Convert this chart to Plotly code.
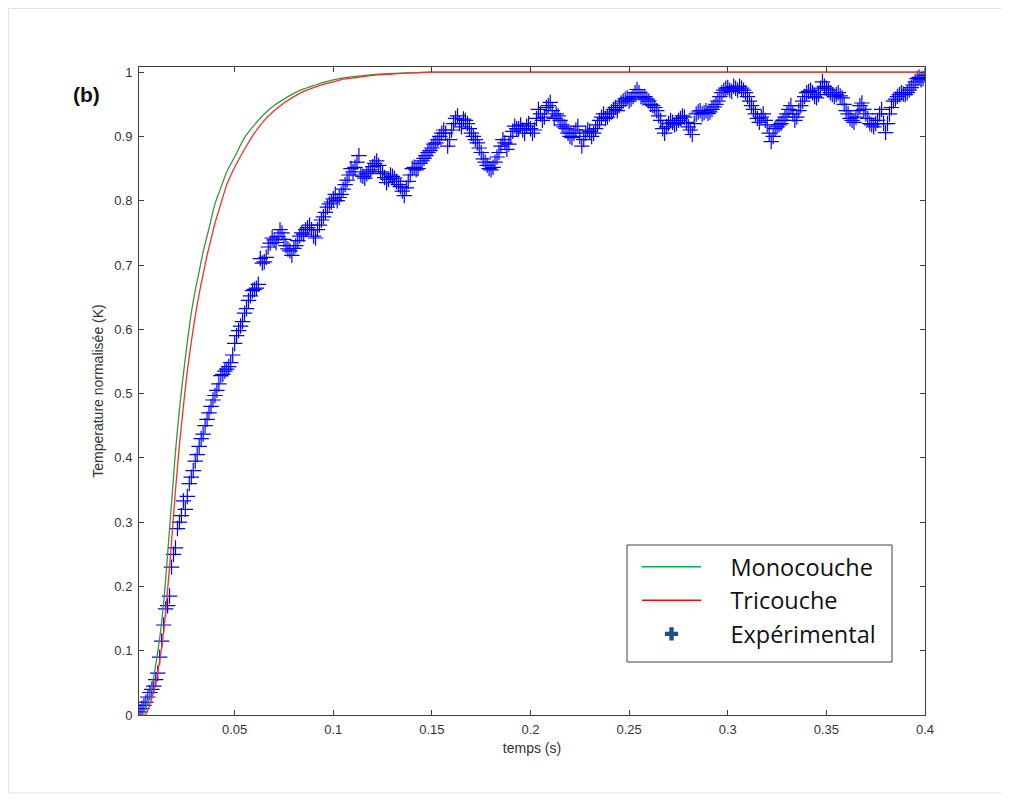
import plotly.graph_objects as go

# ---------------- data ----------------
t_model_g = [0.0015, 0.003, 0.004, 0.005, 0.006, 0.007, 0.008, 0.009, 0.010, 0.011,
             0.012, 0.013, 0.014, 0.015, 0.016, 0.017, 0.018, 0.019, 0.020, 0.022,
             0.024, 0.026, 0.028, 0.030, 0.032, 0.034, 0.036, 0.038, 0.040, 0.043,
             0.046, 0.050, 0.055, 0.060, 0.065, 0.070, 0.075, 0.080, 0.085, 0.090,
             0.095, 0.100, 0.105, 0.110, 0.120, 0.130, 0.140, 0.150, 0.400]
v_mono = [0.0, 0.0, 0.005, 0.012, 0.022, 0.033, 0.045, 0.060, 0.078, 0.098,
          0.120, 0.145, 0.175, 0.210, 0.250, 0.290, 0.330, 0.370, 0.410, 0.475,
          0.530, 0.580, 0.625, 0.660, 0.690, 0.720, 0.745, 0.770, 0.795, 0.820,
          0.845, 0.868, 0.898, 0.918, 0.935, 0.948, 0.958, 0.967, 0.974, 0.979,
          0.984, 0.988, 0.991, 0.993, 0.996, 0.998, 0.999, 1.0, 1.0]

t_model_r = [0.0015, 0.0045, 0.005, 0.006, 0.007, 0.008, 0.009, 0.010, 0.011, 0.012,
             0.013, 0.014, 0.015, 0.016, 0.017, 0.018, 0.019, 0.020, 0.021, 0.022,
             0.024, 0.026, 0.028, 0.030, 0.032, 0.034, 0.036, 0.038, 0.040, 0.043,
             0.046, 0.050, 0.055, 0.060, 0.065, 0.070, 0.075, 0.080, 0.085, 0.090,
             0.095, 0.100, 0.105, 0.110, 0.120, 0.130, 0.140, 0.150, 0.400]
v_tri = [0.0, 0.0, 0.002, 0.008, 0.016, 0.026, 0.038, 0.050, 0.066, 0.085,
         0.105, 0.130, 0.160, 0.195, 0.230, 0.270, 0.310, 0.350, 0.385, 0.420,
         0.480, 0.535, 0.580, 0.620, 0.655, 0.685, 0.715, 0.740, 0.765, 0.795,
         0.825, 0.852, 0.880, 0.905, 0.925, 0.940, 0.952, 0.962, 0.970, 0.976,
         0.981, 0.985, 0.989, 0.991, 0.995, 0.997, 0.999, 1.0, 1.0]

# experimental samples at even milliseconds (0.002 ... 0.400)
v_exp_even = [
    0.005, 0.015, 0.028, 0.040, 0.055, 0.090, 0.140, 0.170, 0.230, 0.260,
    0.300, 0.333, 0.340, 0.370, 0.395, 0.418, 0.437, 0.460, 0.480, 0.497,
    0.515, 0.530, 0.538, 0.548, 0.578, 0.598, 0.612, 0.632, 0.652, 0.662,
    0.670, 0.703, 0.712, 0.734, 0.739, 0.744, 0.750, 0.730, 0.722, 0.726,
    0.738, 0.750, 0.755, 0.762, 0.745, 0.755, 0.770, 0.782, 0.795, 0.803,
    0.800, 0.810, 0.825, 0.840, 0.845, 0.860, 0.840, 0.835, 0.845, 0.853,
    0.862, 0.845, 0.836, 0.833, 0.838, 0.830, 0.822, 0.808, 0.830, 0.850,
    0.848, 0.858, 0.866, 0.875, 0.882, 0.890, 0.900, 0.910, 0.885, 0.910,
    0.928, 0.920, 0.927, 0.920, 0.905, 0.895, 0.882, 0.865, 0.855, 0.848,
    0.860, 0.875, 0.895, 0.880, 0.900, 0.916, 0.912, 0.910, 0.916, 0.912,
    0.910, 0.942, 0.925, 0.945, 0.953, 0.928, 0.932, 0.918, 0.912, 0.900,
    0.905, 0.916, 0.885, 0.905, 0.908, 0.905, 0.918, 0.930, 0.928, 0.935,
    0.942, 0.940, 0.952, 0.958, 0.955, 0.962, 0.973, 0.962, 0.962, 0.955,
    0.948, 0.940, 0.925, 0.905, 0.920, 0.922, 0.920, 0.928, 0.930, 0.915,
    0.903, 0.935, 0.940, 0.937, 0.936, 0.942, 0.950, 0.962, 0.972, 0.976,
    0.970, 0.975, 0.978, 0.972, 0.962, 0.948, 0.935, 0.922, 0.935, 0.918,
    0.892, 0.912, 0.918, 0.925, 0.935, 0.948, 0.925, 0.940, 0.955, 0.968,
    0.972, 0.962, 0.965, 0.985, 0.975, 0.968, 0.962, 0.968, 0.960, 0.940,
    0.928, 0.922, 0.940, 0.952, 0.935, 0.920, 0.915, 0.925, 0.942, 0.906,
    0.935, 0.955, 0.962, 0.968, 0.965, 0.972, 0.980, 0.990, 0.988, 0.995,
]
# experimental samples at odd milliseconds (0.003 ... 0.399)
v_exp_odd = [
    0.010, 0.020, 0.035, 0.045, 0.065, 0.115, 0.165, 0.185, 0.250, 0.290,
    0.310, 0.320, 0.360, 0.380, 0.405, 0.430, 0.450, 0.470, 0.490, 0.505,
    0.528, 0.535, 0.542, 0.560, 0.590, 0.605, 0.625, 0.645, 0.660, 0.664,
    0.710, 0.705, 0.728, 0.742, 0.735, 0.755, 0.740, 0.725, 0.715, 0.730,
    0.745, 0.748, 0.758, 0.755, 0.742, 0.762, 0.775, 0.790, 0.798, 0.810,
    0.805, 0.818, 0.832, 0.850, 0.852, 0.870, 0.838, 0.842, 0.848, 0.858,
    0.855, 0.842, 0.828, 0.840, 0.835, 0.825, 0.815, 0.820, 0.840, 0.852,
    0.850, 0.862, 0.870, 0.878, 0.888, 0.895, 0.905, 0.905, 0.895, 0.920,
    0.932, 0.915, 0.925, 0.912, 0.900, 0.890, 0.875, 0.860, 0.850, 0.852,
    0.868, 0.885, 0.890, 0.888, 0.908, 0.912, 0.918, 0.905, 0.920, 0.905,
    0.928, 0.935, 0.930, 0.948, 0.940, 0.935, 0.925, 0.915, 0.905, 0.898,
    0.910, 0.900, 0.895, 0.910, 0.900, 0.912, 0.925, 0.935, 0.930, 0.938,
    0.945, 0.948, 0.955, 0.960, 0.958, 0.968, 0.968, 0.960, 0.958, 0.950,
    0.945, 0.932, 0.912, 0.915, 0.925, 0.918, 0.925, 0.932, 0.922, 0.910,
    0.920, 0.938, 0.935, 0.940, 0.938, 0.946, 0.955, 0.968, 0.975, 0.972,
    0.978, 0.972, 0.975, 0.968, 0.955, 0.942, 0.928, 0.930, 0.925, 0.905,
    0.900, 0.915, 0.920, 0.930, 0.942, 0.935, 0.930, 0.948, 0.962, 0.970,
    0.968, 0.960, 0.975, 0.978, 0.972, 0.965, 0.965, 0.963, 0.950, 0.935,
    0.925, 0.930, 0.948, 0.942, 0.928, 0.918, 0.920, 0.935, 0.920, 0.920,
    0.945, 0.958, 0.965, 0.966, 0.968, 0.976, 0.985, 0.992, 0.990,
]
t_exp_even = [round(0.002 * (i + 1), 3) for i in range(len(v_exp_even))]
t_exp_odd = [round(0.003 + 0.002 * i, 3) for i in range(len(v_exp_odd))]

x_ticks = [0.05, 0.1, 0.15, 0.2, 0.25, 0.3, 0.35, 0.4]
x_tick_labels = ["0.05", "0.1", "0.15", "0.2", "0.25", "0.3", "0.35", "0.4"]
y_ticks = [0, 0.1, 0.2, 0.3, 0.4, 0.5, 0.6, 0.7, 0.8, 0.9, 1]
y_tick_labels = ["0", "0.1", "0.2", "0.3", "0.4", "0.5", "0.6", "0.7", "0.8", "0.9", "1"]

names = ["Monocouche", "Tricouche", "Expérimental"]

# ---------------- figure ----------------
# page body has an 8px margin, so the figure is drawn 8px smaller and offset
OFF = 8
W, H = 1009 - OFF, 799 - OFF
PL, PT, PR, PB = 139, 67, 925, 715          # plot area in screen pixels
L, T = PL - OFF, PT - OFF
R, B = W - (PR - OFF), H - (PB - OFF)
pw, ph = PR - PL, PB - PT

def px(xs):
    return (xs - PL) / pw

def py(ys):
    return (PB - ys) / ph

fig = go.Figure()

t_exp = t_exp_even + t_exp_odd
v_exp = v_exp_even + v_exp_odd
fig.add_trace(go.Scatter(x=t_exp, y=v_exp, mode="markers", showlegend=False,
                         marker=dict(symbol="cross-thin", size=11, color="#0000ff",
                                     line=dict(width=1.2, color="#0000ff"))))
fig.add_trace(go.Scatter(x=t_model_g, y=v_mono, mode="lines", showlegend=False,
                         line=dict(color="#2f9a3a", width=1.3, shape="spline", smoothing=0.8)))
fig.add_trace(go.Scatter(x=t_model_r, y=v_tri, mode="lines", showlegend=False,
                         line=dict(color="#ff2a2a", width=1.3, shape="spline", smoothing=0.8)))

# legend entries
NB = "\u00a0" * 4
fig.add_trace(go.Scatter(x=[None], y=[None], mode="lines", name=NB + names[0],
                         line=dict(color="#00b050", width=1.5)))
fig.add_trace(go.Scatter(x=[None], y=[None], mode="lines", name=NB + names[1],
                         line=dict(color="#ff0000", width=1.5)))
fig.add_trace(go.Scatter(x=[None], y=[None], mode="markers", name=NB + names[2],
                         marker=dict(symbol="cross", size=11, color="#1f4e8c")))

tickfont = dict(family="Liberation Sans, Arial", size=13, color="#333333")
titlefont = dict(family="Liberation Sans, Arial", size=14, color="#333333")
axis_common = dict(showline=True, linecolor="#404040", linewidth=1, mirror="ticks",
                   ticks="inside", ticklen=5, tickcolor="#404040", tickwidth=1,
                   showgrid=False, zeroline=False, tickfont=tickfont)

fig.update_xaxes(range=[0.0015, 0.4], tickvals=x_ticks, ticktext=x_tick_labels,
                 ticklabelstandoff=2,
                 title=dict(text="temps (s)", standoff=7, font=titlefont),
                 **axis_common)
fig.update_yaxes(range=[0, 1.008], tickvals=y_ticks, ticktext=y_tick_labels,
                 ticklabelstandoff=3,
                 title=dict(text="Temperature normalisée (K)", standoff=7, font=titlefont),
                 **axis_common)

fig.update_layout(
    width=W, height=H, autosize=False,
    margin=dict(l=L, r=R, t=T, b=B),
    paper_bgcolor="white", plot_bgcolor="white",
    showlegend=True,
    legend=dict(x=px(637), y=py(545), xanchor="left", yanchor="top",
                bgcolor="rgba(0,0,0,0)", borderwidth=0,
                font=dict(family="Open Sans", size=23.5, color="#111111"),
                itemwidth=59, tracegroupgap=0),
    annotations=[dict(text="<b>(b)</b>", x=px(86), y=py(95), xref="paper", yref="paper",
                      xanchor="center", yanchor="middle", showarrow=False,
                      font=dict(family="Liberation Sans, Arial", size=21, color="#111111"))],
    shapes=[
        dict(type="rect", xref="paper", yref="paper",
             x0=px(8.5), x1=px(1003), y0=py(8.5), y1=py(793),
             line=dict(color="#e3e3e3", width=1), fillcolor="rgba(0,0,0,0)", layer="below"),
        dict(type="rect", xref="paper", yref="paper",
             x0=px(627), x1=px(892), y0=py(662), y1=py(545),
             line=dict(color="#404040", width=1), fillcolor="white", layer="above"),
    ],
)

fig.write_html("out.html")
